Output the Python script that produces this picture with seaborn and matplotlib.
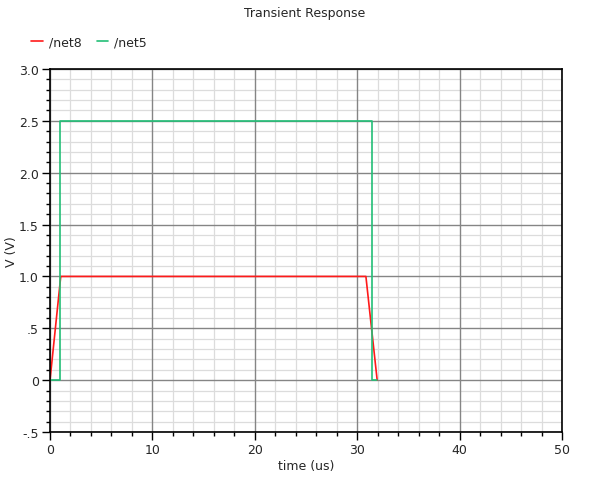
import matplotlib
matplotlib.use("Agg")
import matplotlib.pyplot as plt
import seaborn as sns
import numpy as np
from matplotlib.ticker import MultipleLocator, FixedLocator, FixedFormatter

# data
net8_t = [0.0, 1.05, 30.85, 31.95]
net8_v = [0.0, 1.0, 1.0, 0.0]
net5_t = [0.0, 0.93, 0.93, 31.45, 31.45, 31.9]
net5_v = [0.0, 0.0, 2.5, 2.5, 0.0, 0.0]
x_ticks = [0, 10, 20, 30, 40, 50]
x_labels = ["0", "10", "20", "30", "40", "50"]
y_ticks = [-0.5, 0.0, 0.5, 1.0, 1.5, 2.0, 2.5, 3.0]
y_labels = ["-.5", "0", ".5", "1.0", "1.5", "2.0", "2.5", "3.0"]

sns.set_style("white")
plt.rcParams['font.family'] = ['DejaVu Sans']

fig = plt.figure(figsize=(6.1, 4.81), dpi=100)
ax = fig.add_axes([50/610, 48/481, 512/610, 363/481])

red = "#ff1a1a"
green = "#22bf77"

sns.lineplot(x=net8_t, y=net8_v, sort=False, estimator=None, color=red, lw=1.2, ax=ax, label="/net8", legend=False, zorder=3)
sns.lineplot(x=net5_t, y=net5_v, sort=False, estimator=None, color=green, lw=1.2, ax=ax, label="/net5", legend=False, zorder=4)

ax.set_xlim(0, 50)
ax.set_ylim(-0.5, 3.0)
ax.xaxis.set_major_locator(FixedLocator(x_ticks))
ax.xaxis.set_major_formatter(FixedFormatter(x_labels))
ax.yaxis.set_major_locator(FixedLocator(y_ticks))
ax.yaxis.set_major_formatter(FixedFormatter(y_labels))
ax.xaxis.set_minor_locator(MultipleLocator(2))
ax.yaxis.set_minor_locator(MultipleLocator(0.1))

# grid: minor below major
ax.grid(False)
for xm in ax.xaxis.get_minorticklocs():
    ax.axvline(xm, color="#dcdcdc", lw=0.9, zorder=0.5)
for ym in ax.yaxis.get_minorticklocs():
    ax.axhline(ym, color="#dcdcdc", lw=0.9, zorder=0.5)
for xm in x_ticks:
    ax.axvline(xm, color="#858585", lw=1.0, zorder=0.6)
for ym in y_ticks:
    ax.axhline(ym, color="#858585", lw=1.0, zorder=0.6)

for s in ax.spines.values():
    s.set_visible(True)
    s.set_color("black")
    s.set_linewidth(1.2)
    s.set_zorder(5)

ax.tick_params(which="major", direction="out", length=6, width=1, color="black", labelsize=9, pad=2, left=True, bottom=True)
ax.tick_params(which="minor", direction="out", length=3, width=1, color="black", left=True, bottom=True)

ax.set_xlabel("time (us)", fontsize=9, labelpad=2)
ax.set_ylabel("V (V)", fontsize=9)
ax.yaxis.set_label_coords(-(50 - 18) / 512, 0.5)

fig.text(0.5, 1 - 14/481, "Transient Response", ha="center", va="center", fontsize=9)

handles, labels = ax.get_legend_handles_labels()
fig.legend(handles, labels, loc="center left", bbox_to_anchor=(20/610, 1 - 43/481), ncol=2,
           frameon=False, fontsize=9, handlelength=0.9, handletextpad=0.5, columnspacing=1.2)

fig.savefig("out.png", dpi=100)
